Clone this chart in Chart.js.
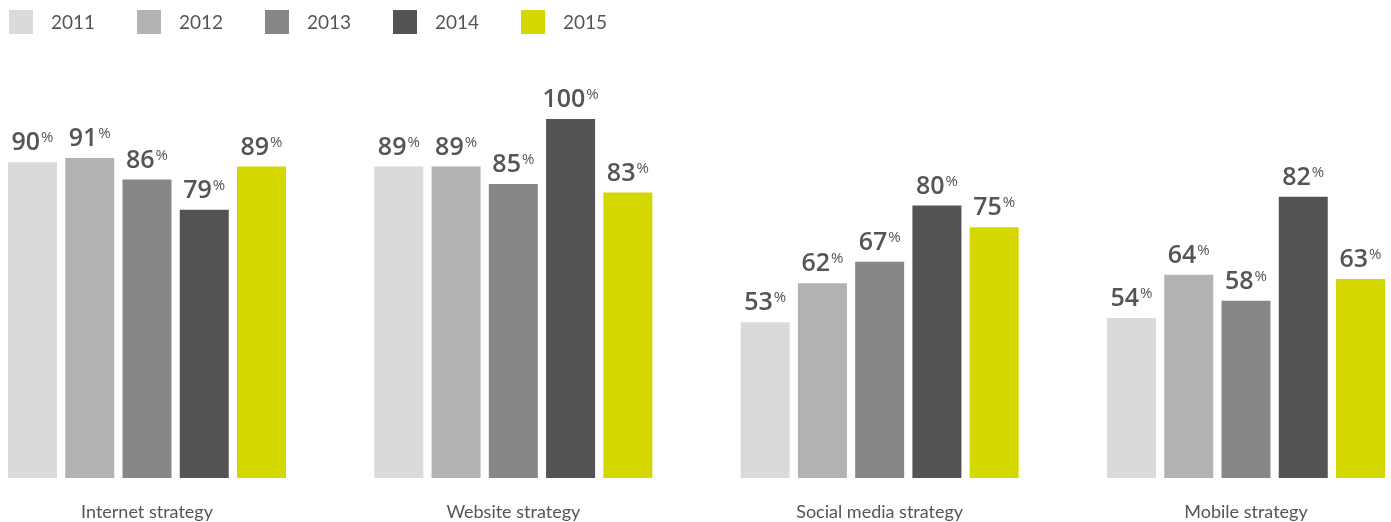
<!DOCTYPE html>
<html>
<head>
<meta charset="utf-8">
<script src="https://cdn.jsdelivr.net/npm/chart.js@4/dist/chart.umd.min.js"></script>
<style>
  html, body { margin: 0; padding: 0; background: #ffffff; overflow: hidden; }
  #wrap { position: relative; width: 1391px; height: 522px; }
</style>
</head>
<body>
<div id="wrap"><canvas id="chart" width="1391" height="522"></canvas></div>
<script>
// Strategy adoption by year (percent)
const categories = ['Internet strategy', 'Website strategy', 'Social media strategy', 'Mobile strategy'];
const years = ['2011', '2012', '2013', '2014', '2015'];

const values2011 = [90, 89, 53, 54];
const values2012 = [91, 89, 62, 64];
const values2013 = [86, 85, 67, 58];
const values2014 = [79, 100, 80, 82];
const values2015 = [89, 83, 75, 63];

const yearColors = ['#dadada', '#b2b2b2', '#878786', '#545454', '#d4d800'];
const seriesValues = [values2011, values2012, values2013, values2014, values2015];

// Value axis floor: bars rise from this level
const AXIS_FLOOR = 17;
const AXIS_CEIL = 100;

const TEXT_COLOR = '#555555';

// Value labels: bold number with a small raised percent sign
const valueLabels = {
  id: 'valueLabels',
  afterDatasetsDraw(chart) {
    const ctx = chart.ctx;
    const bigFont = '600 25px "Open Sans"';
    const smallFont = '400 15px "Open Sans"';
    chart.data.datasets.forEach((ds, di) => {
      const meta = chart.getDatasetMeta(di);
      meta.data.forEach((bar, i) => {
        const num = String(ds.data[i]);
        ctx.save();
        ctx.font = bigFont;
        const w1 = ctx.measureText(num).width;
        ctx.font = smallFont;
        const w2 = ctx.measureText('%').width;
        const gap = 1;
        const x0 = bar.x - (w1 + gap + w2) / 2;
        const base = bar.y - 12;
        ctx.fillStyle = TEXT_COLOR;
        ctx.textAlign = 'left';
        ctx.textBaseline = 'alphabetic';
        ctx.font = bigFont;
        ctx.fillText(num, x0, base);
        ctx.font = smallFont;
        ctx.fillText('%', x0 + w1 + gap, base - 8);
        ctx.restore();
      });
    });
  }
};

// Legend row across the top: square swatch followed by the year
const yearLegend = {
  id: 'yearLegend',
  afterDraw(chart) {
    const ctx = chart.ctx;
    ctx.save();
    chart.data.datasets.forEach((ds, i) => {
      const x = 9 + i * 128;
      ctx.fillStyle = ds.backgroundColor;
      ctx.fillRect(x, 10, 24, 24);
      ctx.fillStyle = TEXT_COLOR;
      ctx.font = '400 19px "Lato"';
      ctx.textAlign = 'left';
      ctx.textBaseline = 'alphabetic';
      ctx.fillText(ds.label, x + 42, 29);
    });
    ctx.restore();
  }
};

new Chart(document.getElementById('chart'), {
  type: 'bar',
  data: {
    labels: categories,
    datasets: years.map((y, i) => ({
      label: y,
      data: seriesValues[i],
      backgroundColor: yearColors[i],
      borderWidth: 0,
      base: AXIS_FLOOR,
      clip: false,
      categoryPercentage: 0.7814,
      barPercentage: 0.856
    }))
  },
  options: {
    responsive: false,
    animation: false,
    layout: { padding: { top: 119, right: 145, left: 0, bottom: 0 } },
    plugins: {
      legend: { display: false },
      tooltip: { enabled: false }
    },
    scales: {
      x: {
        offset: false,
        grid: { display: false, drawTicks: false },
        border: { display: false },
        ticks: {
          color: TEXT_COLOR,
          font: { family: 'Lato', size: 18, weight: '400' },
          padding: 23,
          maxRotation: 0,
          autoSkip: false
        },
        afterFit(scale) { scale.height = 44; }
      },
      y: {
        min: AXIS_FLOOR,
        max: AXIS_CEIL,
        grid: { display: false, drawTicks: false },
        border: { display: false },
        ticks: { display: false },
        afterFit(scale) { scale.width = 147; }
      }
    }
  },
  plugins: [valueLabels, yearLegend]
});
</script>
</body>
</html>
